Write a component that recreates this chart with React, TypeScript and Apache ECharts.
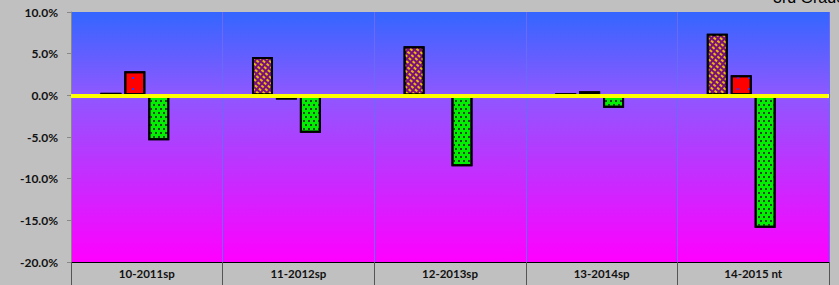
import React, { useEffect, useRef } from "react";
import * as echarts from "echarts";

const categories = ["10-2011sp", "11-2012sp", "12-2013sp", "13-2014sp", "14-2015 nt"];
const series1 = [0.3, 4.6, 5.9, 0.25, 7.4];
const series2 = [2.9, -0.5, null, 0.5, 2.4];
const series3 = [-5.4, -4.5, -8.5, -1.5, -15.9];
const series4: (number | null)[] = [null, null, null, null, null];
const yTicks = { min: -20, max: 10, interval: 5 };
const titleText = "3rd Grade";

export default function App() {
  const ref = useRef<HTMLDivElement>(null);
  useEffect(() => {
    if (!ref.current) return;
    const chart = echarts.init(ref.current, null, { renderer: "svg" });
    const font = "Lato, 'DejaVu Sans', sans-serif";
    const barBase = {
      type: "bar" as const,
      barWidth: 21,
      barGap: "14%",
    };
    chart.setOption({
      animation: false,
      backgroundColor: "#C0C0C0",
      grid: {
        left: 71,
        right: 10,
        top: 12,
        bottom: 23,
        show: true,
        borderWidth: 0,
        backgroundColor: {
          type: "linear",
          x: 0,
          y: 0,
          x2: 0,
          y2: 1,
          colorStops: [
            { offset: 0, color: "#3366FF" },
            { offset: 0.33, color: "#8E58FF" },
            { offset: 1, color: "#FF00FF" },
          ],
        },
      },
      graphic: [
        {
          type: "text",
          left: 773,
          top: -11,
          style: {
            text: titleText,
            font: "16px 'Liberation Sans', Arial, sans-serif",
            fill: "#000",
          },
        },
      ],
      xAxis: {
        type: "category",
        data: categories,
        boundaryGap: true,
        axisLine: { onZero: false, lineStyle: { color: "#000", width: 1 } },
        axisTick: { show: true, length: 23, lineStyle: { color: "#555", width: 1 } },
        axisLabel: {
          margin: 5,
          fontSize: 11.5,
          fontWeight: "bold",
          fontFamily: font,
          color: "#111",
        },
        splitLine: { show: true, lineStyle: { color: "#6A6AF8", width: 1 } },
      },
      yAxis: {
        type: "value",
        min: yTicks.min,
        max: yTicks.max,
        interval: yTicks.interval,
        axisLine: { show: true, lineStyle: { color: "#888", width: 1 } },
        axisTick: { show: true, length: 4, lineStyle: { color: "#888" } },
        splitLine: { show: false },
        axisLabel: {
          margin: 13,
          fontSize: 12,
          fontWeight: "bold",
          fontFamily: font,
          color: "#111",
          formatter: (v: number) => v.toFixed(1) + "%",
        },
      },
      series: [
        {
          ...barBase,
          name: "Series 1",
          data: series1,
          itemStyle: {
            color: "#7A0F7A",
            borderColor: "#000",
            borderWidth: 2,
            decal: {
              symbol: "rect",
              symbolSize: 1,
              color: "#E8B810",
              dashArrayX: [3, 2],
              dashArrayY: [2, 2],
              rotation: 0.7,
            },
          },
          markLine: {
            silent: true,
            symbol: "none",
            label: { show: false },
            lineStyle: { color: "#FFFF00", width: 4, type: "solid" },
            data: [{ yAxis: 0 }],
          },
        },
        {
          ...barBase,
          name: "Series 2",
          data: series2,
          itemStyle: {
            color: "#FF0000",
            borderColor: "#000",
            borderWidth: 2,
            decal: {
              symbol: "rect",
              symbolSize: 1,
              color: "#3333FF",
              dashArrayX: [2, 9],
              dashArrayY: [2, 9],
              rotation: 0,
            },
          },
        },
        {
          ...barBase,
          name: "Series 3",
          data: series3,
          itemStyle: {
            color: "#00F000",
            borderColor: "#000",
            borderWidth: 2,
            decal: {
              symbol: "rect",
              symbolSize: 1,
              color: "#2F3F2F",
              dashArrayX: [[2, 3], [0, 3, 2, 0]],
              dashArrayY: [2, 2],
              rotation: 0,
            },
          },
        },
        {
          ...barBase,
          name: "Series 4",
          data: series4,
          itemStyle: { color: "#999", borderColor: "#000", borderWidth: 1 },
        },
      ],
    });
    return () => chart.dispose();
  }, []);
  return (
    <div
      ref={ref}
      style={{ position: "fixed", left: 0, top: 0, width: 839, height: 285 }}
    />
  );
}
